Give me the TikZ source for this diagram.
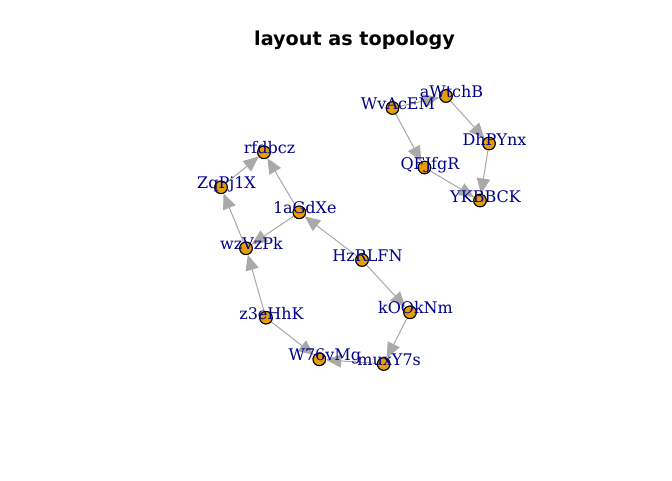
\documentclass[tikz,border=0pt]{standalone}
\usepackage{fontspec}
\newfontfamily\labfont{DejaVu Serif}
\newfontfamily\titfont{DejaVu Sans}
\usetikzlibrary{arrows.meta}
\definecolor{vfill}{HTML}{E69F00}
\definecolor{labcol}{HTML}{00008B}
\definecolor{edgecol}{HTML}{A9A9A9}
\begin{document}
\begin{tikzpicture}[x=0.75pt,y=-0.75pt,
  vtx/.style={circle,draw=black,line width=0.75pt,fill=vfill,minimum size=9.4pt,inner sep=0pt},
  vlab/.style={anchor=base,text=labcol,font=\labfont\fontsize{12}{14}\selectfont,inner sep=0pt},
  edg/.style={draw=edgecol,line width=0.75pt,-{Triangle[length=11.5pt,width=10pt]},fill=edgecol}]
\useasboundingbox (0,0) rectangle (672,480);
\node[anchor=base,font=\titfont\bfseries\fontsize{14.4}{17}\selectfont] (title) at (354.5,45.7) {layout as topology};
% vertices
\node[vtx] (rfdbcz) at (264,152.3) {};
\node[vtx] (ZqPj1X) at (221,187.3) {};
\node[vtx] (aGdXe) at (299.3,212.3) {};
\node[vtx] (wzVzPk) at (246,248.3) {};
\node[vtx] (HzRLFN) at (362,260) {};
\node[vtx] (z3eHhK) at (266,317.7) {};
\node[vtx] (kOOkNm) at (410,312.3) {};
\node[vtx] (W76vMg) at (319.3,359.3) {};
\node[vtx] (muxY7s) at (383.7,364) {};
\node[vtx] (WvAcEM) at (392.5,108) {};
\node[vtx] (aWtchB) at (446,96) {};
\node[vtx] (DhPYnx) at (489,143.5) {};
\node[vtx] (QFJfgR) at (424.5,167.5) {};
\node[vtx] (YKBBCK) at (480,200.5) {};
% edges
\path[edg] (WvAcEM) -- (aWtchB);
\path[edg] (aWtchB) -- (DhPYnx);
\path[edg] (WvAcEM) -- (QFJfgR);
\path[edg] (DhPYnx) -- (YKBBCK);
\path[edg] (QFJfgR) -- (YKBBCK);
\path[edg] (HzRLFN) -- (aGdXe);
\path[edg] (HzRLFN) -- (kOOkNm);
\path[edg] (aGdXe) -- (rfdbcz);
\path[edg] (aGdXe) -- (wzVzPk);
\path[edg] (wzVzPk) -- (ZqPj1X);
\path[edg] (ZqPj1X) -- (rfdbcz);
\path[edg] (z3eHhK) -- (wzVzPk);
\path[edg] (z3eHhK) -- (W76vMg);
\path[edg] (kOOkNm) -- (muxY7s);
\path[edg] (muxY7s) -- (W76vMg);
% redraw vertices on top
\foreach \v in {rfdbcz,ZqPj1X,aGdXe,wzVzPk,HzRLFN,z3eHhK,kOOkNm,W76vMg,muxY7s,WvAcEM,aWtchB,DhPYnx,QFJfgR,YKBBCK}
  \path[draw=black,line width=0.75pt,fill=vfill] (\v.center) circle[radius=4.7pt];
% labels
\tikzset{lshift/.style={xshift=5.5*0.75pt,yshift=-1.5*0.75pt}}
\node[vlab] (lrfdbcz) at ([lshift]rfdbcz.center) {rfdbcz};
\node[vlab] (lZqPj1X) at ([lshift]ZqPj1X.center) {ZqPj1X};
\node[vlab] (laGdXe) at ([lshift]aGdXe.center) {1aGdXe};
\node[vlab] (lwzVzPk) at ([lshift]wzVzPk.center) {wzVzPk};
\node[vlab] (lHzRLFN) at ([lshift]HzRLFN.center) {HzRLFN};
\node[vlab] (lz3eHhK) at ([lshift]z3eHhK.center) {z3eHhK};
\node[vlab] (lkOOkNm) at ([lshift]kOOkNm.center) {kOOkNm};
\node[vlab] (lW76vMg) at ([lshift]W76vMg.center) {W76vMg};
\node[vlab] (lmuxY7s) at ([lshift]muxY7s.center) {muxY7s};
\node[vlab] (lWvAcEM) at ([lshift]WvAcEM.center) {WvAcEM};
\node[vlab] (laWtchB) at ([lshift]aWtchB.center) {aWtchB};
\node[vlab] (lDhPYnx) at ([lshift]DhPYnx.center) {DhPYnx};
\node[vlab] (lQFJfgR) at ([lshift]QFJfgR.center) {QFJfgR};
\node[vlab] (lYKBBCK) at ([lshift]YKBBCK.center) {YKBBCK};
\end{tikzpicture}
\end{document}
